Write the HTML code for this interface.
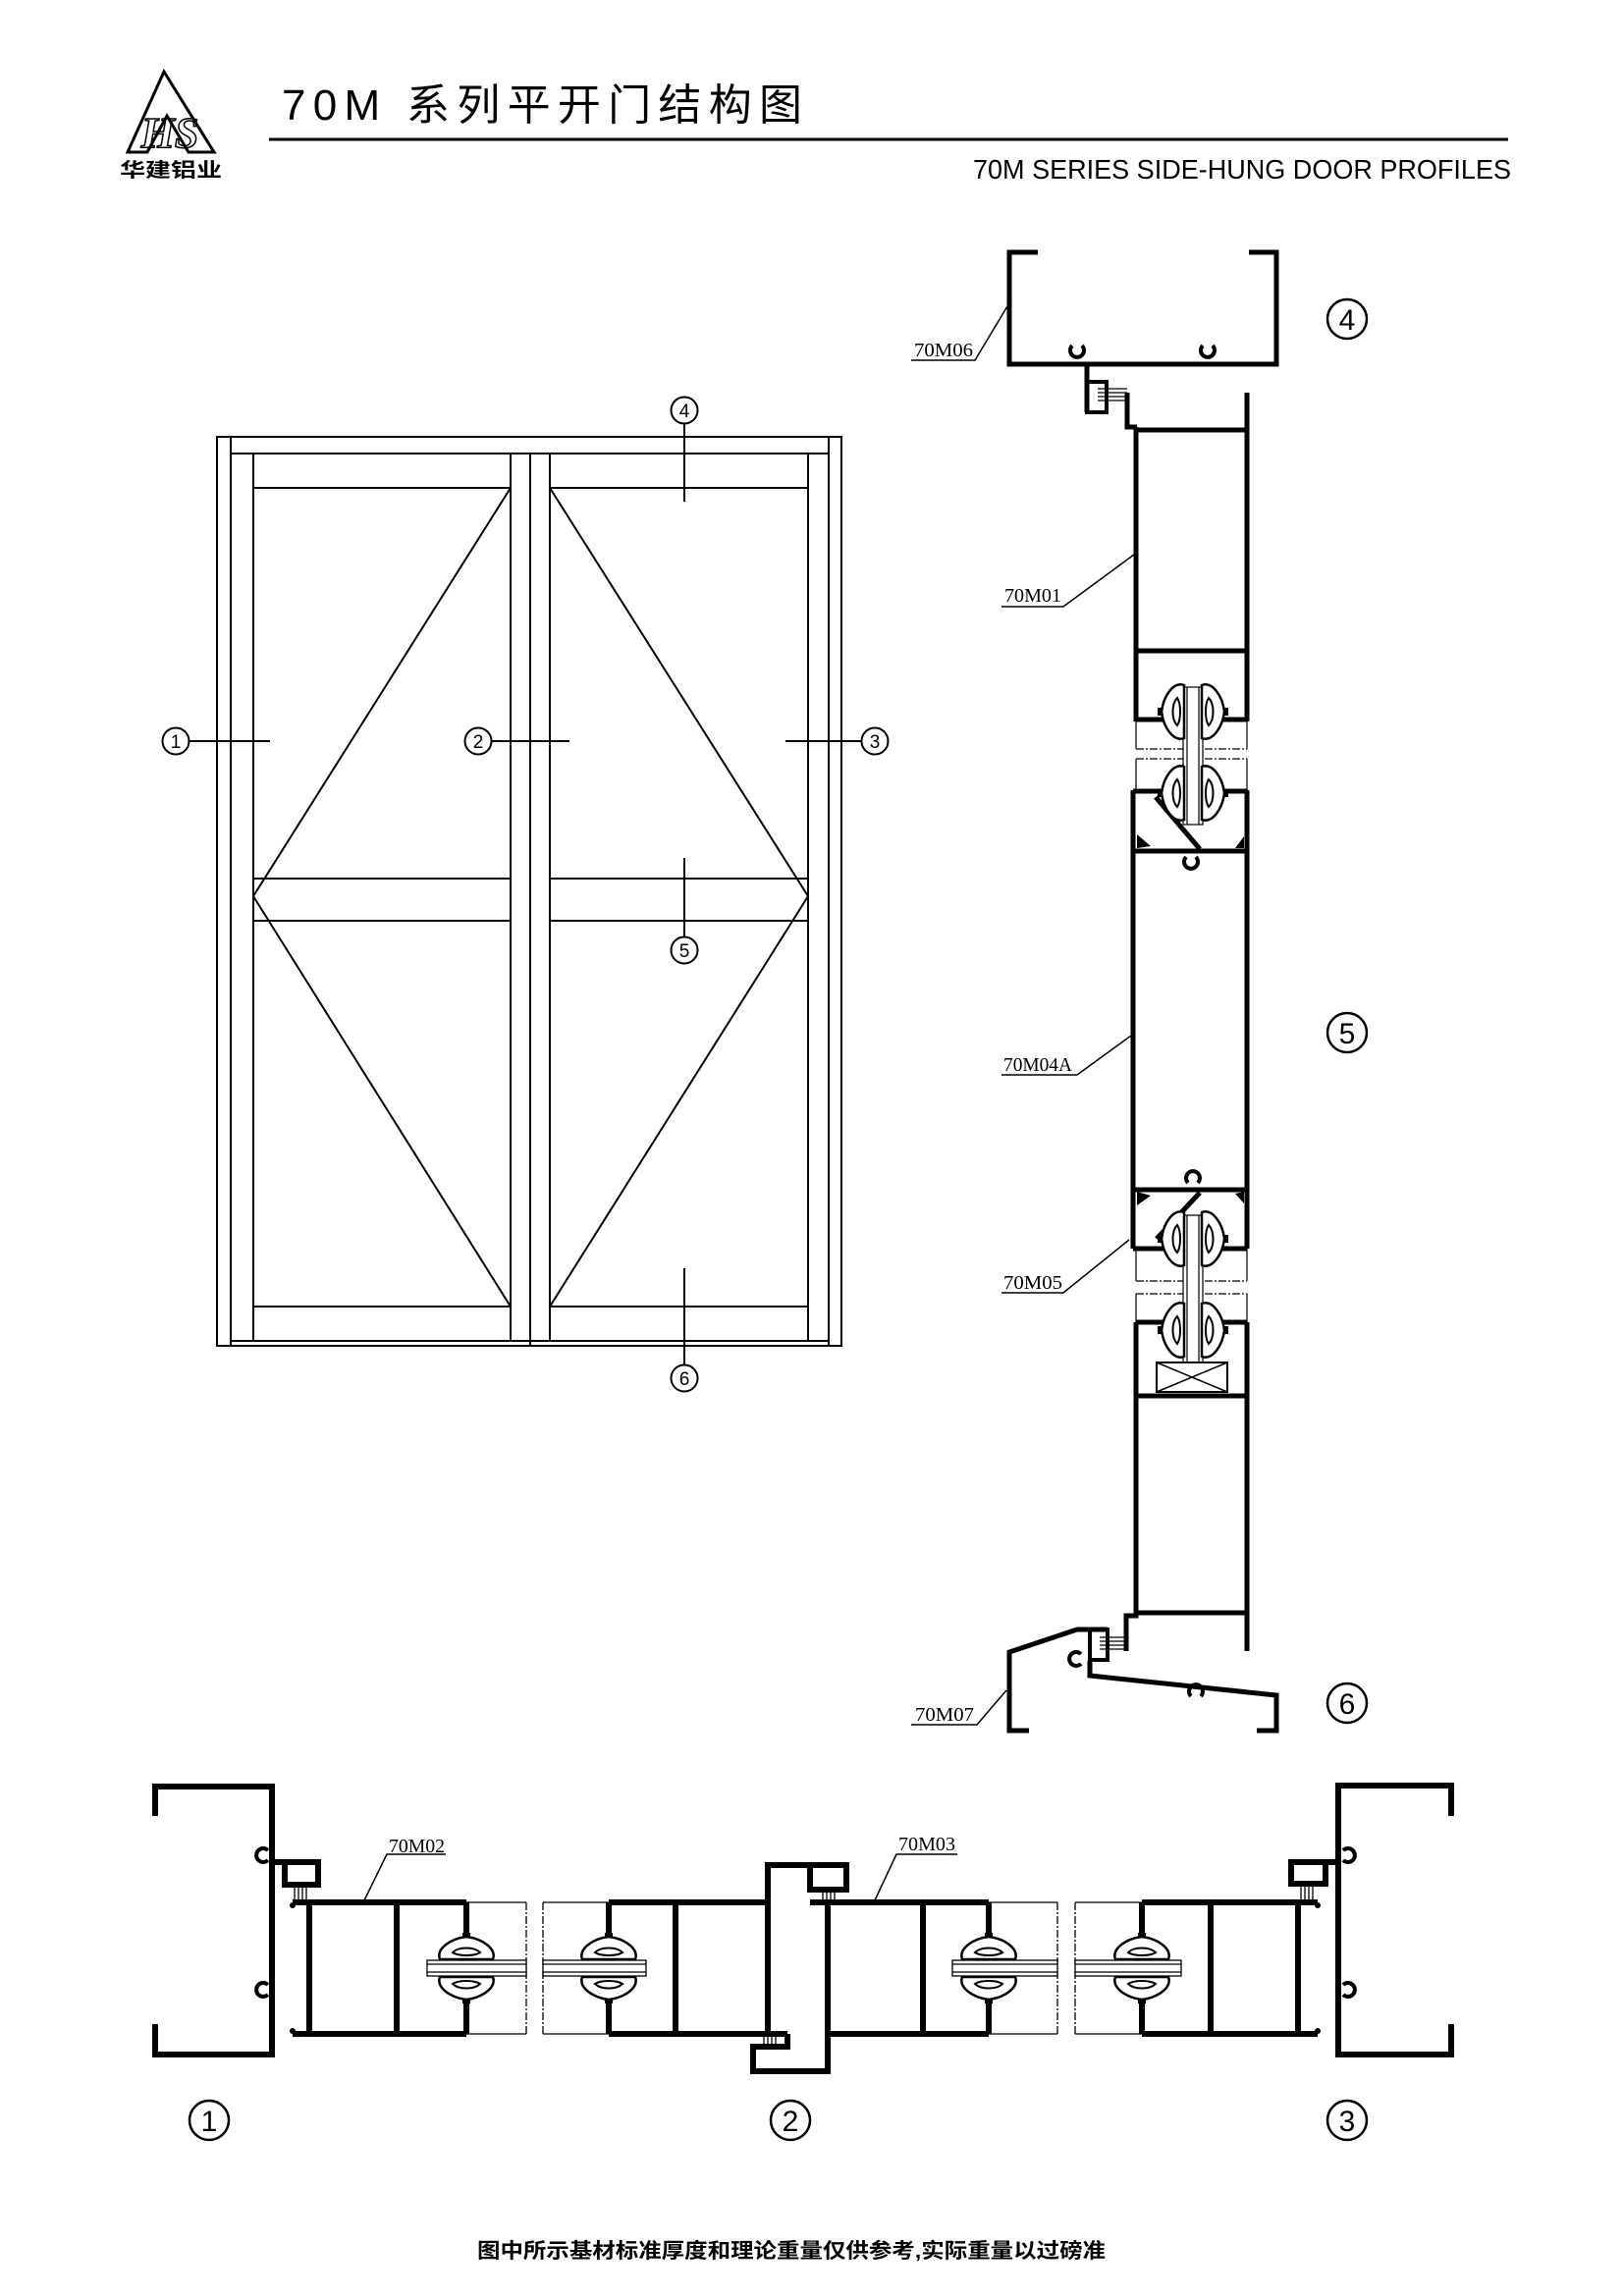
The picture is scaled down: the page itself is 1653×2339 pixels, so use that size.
<!DOCTYPE html>
<html><head><meta charset="utf-8"><style>
html,body{margin:0;padding:0;background:#fff;}
svg{display:block;}
</style></head><body>
<svg width="1653" height="2339" viewBox="0 0 1653 2339" xmlns="http://www.w3.org/2000/svg">
<defs>
<g id="gk">
 <path d="M-27,-9 C-31,-20 -16,-30 0,-32 C16,-30 31,-20 27,-9 Z" fill="#fff" stroke="#000" stroke-width="2.5"/>
 <path d="M-14,-16 C-8,-22 8,-22 14,-16 C8,-12 -8,-12 -14,-16 Z" fill="none" stroke="#000" stroke-width="2"/>
 <path d="M-27,9 C-31,20 -16,30 0,32 C16,30 31,20 27,9 Z" fill="#fff" stroke="#000" stroke-width="2.5"/>
 <path d="M-14,16 C-8,22 8,22 14,16 C8,12 -8,12 -14,16 Z" fill="none" stroke="#000" stroke-width="2"/>
 <rect x="-4" y="-36" width="8" height="5" fill="#000"/>
 <rect x="-4" y="31" width="8" height="5" fill="#000"/>
</g>
</defs>

<!-- HEADER -->
<polygon points="167,73 130,155 150,155 170,118 192,155 218,155" fill="none" stroke="#000" stroke-width="3"/>
<text x="173" y="150" font-family="Liberation Serif, serif" font-size="44" font-style="italic" font-weight="bold" text-anchor="middle" fill="none" stroke="#000" stroke-width="1.5">HS</text>
<text x="174" y="180" font-family="Liberation Sans, 'Noto Sans CJK SC', sans-serif" font-size="20" font-weight="bold" text-anchor="middle" textLength="104" lengthAdjust="spacingAndGlyphs">华建铝业</text>
<text x="287" y="122" font-family="Liberation Sans, 'Noto Sans CJK SC', sans-serif" font-size="44" textLength="530" lengthAdjust="spacing">70M 系列平开门结构图</text>
<line x1="274" y1="142" x2="1536" y2="142" stroke="#000" stroke-width="3"/>
<text x="991" y="182" font-family="Liberation Sans, sans-serif" font-size="28" textLength="548" lengthAdjust="spacingAndGlyphs">70M SERIES SIDE-HUNG DOOR PROFILES</text>

<!-- DOOR ELEVATION -->
<g fill="none" stroke="#000" stroke-width="2">
 <rect x="221" y="445" width="636" height="926"/>
 <line x1="235" y1="445" x2="235" y2="1371"/>
 <line x1="844" y1="445" x2="844" y2="1371"/>
 <line x1="235" y1="462" x2="844" y2="462"/>
 <line x1="235" y1="1366" x2="844" y2="1366"/>
 <line x1="258" y1="462" x2="258" y2="1366"/>
 <line x1="520" y1="462" x2="520" y2="1366"/>
 <line x1="540" y1="462" x2="540" y2="1371"/>
 <line x1="560" y1="462" x2="560" y2="1366"/>
 <line x1="823" y1="462" x2="823" y2="1366"/>
 <line x1="258" y1="497" x2="520" y2="497"/><line x1="560" y1="497" x2="823" y2="497"/>
 <line x1="258" y1="895" x2="520" y2="895"/><line x1="560" y1="895" x2="823" y2="895"/>
 <line x1="258" y1="938" x2="520" y2="938"/><line x1="560" y1="938" x2="823" y2="938"/>
 <line x1="258" y1="1331" x2="520" y2="1331"/><line x1="560" y1="1331" x2="823" y2="1331"/>
 <polyline points="520,497 258,913 520,1331"/>
 <polyline points="560,497 823,913 560,1331"/>
 <line x1="193" y1="755" x2="275" y2="755"/>
 <line x1="501" y1="755" x2="580" y2="755"/>
 <line x1="800" y1="755" x2="877" y2="755"/>
 <line x1="697" y1="432" x2="697" y2="511"/>
 <line x1="697" y1="874" x2="697" y2="955"/>
 <line x1="697" y1="1292" x2="697" y2="1391"/>
 <circle cx="179" cy="755" r="13.5"/><circle cx="487" cy="755" r="13.5"/><circle cx="891" cy="755" r="13.5"/>
 <circle cx="697" cy="418" r="13.5"/><circle cx="697" cy="968" r="13.5"/><circle cx="697" cy="1404" r="13.5"/>
</g>
<g font-family="Liberation Sans, sans-serif" font-size="19" text-anchor="middle">
 <text x="179" y="762">1</text><text x="487" y="762">2</text><text x="891" y="762">3</text>
 <text x="697" y="425">4</text><text x="697" y="975">5</text><text x="697" y="1411">6</text>
</g>

<!-- RIGHT VERTICAL SECTION -->
<g fill="none" stroke="#000" stroke-width="5" stroke-linejoin="miter">
 <path d="M1057,257 H1028 V371 H1300 V257 H1272"/>
 <path d="M1107,373 V420"/>
 <rect x="1107" y="389" width="20" height="31" stroke-width="4"/>
 <path d="M1148,400 V435 H1158"/>
 <path d="M1157,435 V735"/>
 <path d="M1270,400 V735"/>
 <path d="M1157,438 H1270"/>
 <path d="M1157,663 H1270"/>
 <path d="M1157,733 H1188 M1242,733 H1270"/>
 <path d="M1154,805 V1272"/>
 <path d="M1270,805 V1272"/>
 <path d="M1154,806 H1188 M1242,806 H1270"/>
 <path d="M1154,867 H1270"/>
 <path d="M1177,812 L1222,865"/>
 <path d="M1154,1212 H1270"/>
 <path d="M1222,1215 L1178,1262"/>
 <path d="M1154,1272 H1188 M1242,1272 H1270"/>
 <path d="M1157,1347 V1646 H1147 V1682"/>
 <path d="M1270,1347 V1682"/>
 <path d="M1157,1347 H1188 M1242,1347 H1270"/>
 <path d="M1157,1422 H1270"/>
 <path d="M1157,1643 H1270"/>
 <rect x="1110" y="1660" width="18" height="31" stroke-width="4"/>
 <path d="M1048,1763 H1028 V1683 L1097,1660 H1128"/>
 <path d="M1110,1692 V1707 L1300,1727 V1763 H1280"/>
</g>
<g fill="none" stroke="#000" stroke-width="4">
 <path d="M1092,352 A7,7 0 1,0 1102,352"/>
 <path d="M1225,352 A7,7 0 1,0 1235,352"/>
 <path d="M1208,873 A7,7 0 1,0 1218,873"/>
 <path d="M1210,1205 A7,7 0 1,1 1220,1205"/>
 <path d="M1101,1685 A7,7 0 1,0 1101,1695"/>
 <path d="M1213,1728 A7,7 0 1,1 1223,1728"/>
</g>
<g fill="none" stroke="#000" stroke-width="1.2">
 <path d="M1157,735 V763 M1270,735 V763 M1157,773 V805 M1270,773 V805"/>
 <path d="M1157,1272 V1305 M1270,1272 V1305 M1157,1318 V1347 M1270,1318 V1347"/>
 <path d="M1157,763 H1270 M1157,773 H1270 M1157,1305 H1270 M1157,1318 H1270" stroke-dasharray="8,2,2,2"/>
 <path d="M1118,396 H1148 M1118,400 H1148 M1118,404 H1148 M1118,408 H1148"/>
 <path d="M1120,1668 H1148 M1120,1672 H1148 M1120,1676 H1148 M1120,1680 H1148"/>
 <rect x="1205" y="700" width="20" height="140" fill="#fff"/>
 <path d="M1209,700 V840 M1221,700 V840"/>
 <rect x="1205" y="1238" width="20" height="150" fill="#fff"/>
 <path d="M1209,1238 V1388 M1221,1238 V1388"/>
 <rect x="1178" y="1388" width="72" height="30" stroke-width="2"/>
 <path d="M1178,1388 L1250,1418 M1250,1388 L1178,1418" stroke-width="1.5"/>
</g>
<use href="#gk" transform="translate(1215,725) rotate(90)"/>
<use href="#gk" transform="translate(1215,808) rotate(90)"/>
<use href="#gk" transform="translate(1215,1262) rotate(90)"/>
<use href="#gk" transform="translate(1215,1355) rotate(90)"/>
<polygon points="1158,850 1172,862 1158,864" fill="#000"/>
<polygon points="1267,852 1258,864 1267,864" fill="#000"/>
<polygon points="1158,1214 1172,1218 1158,1228" fill="#000"/>
<polygon points="1267,1214 1258,1216 1267,1226" fill="#000"/>
<!-- leaders -->
<g fill="none" stroke="#000" stroke-width="1.5">
 <path d="M1026,312 L993,367 H928"/>
 <path d="M1155,565 L1083,618 H1020"/>
 <path d="M1152,1055 L1097,1095 H1020"/>
 <path d="M1150,1263 L1083,1317 H1020"/>
 <path d="M1025,1722 L995,1757 H928"/>
 <circle cx="1372" cy="325" r="20" stroke-width="2.5"/>
 <circle cx="1372" cy="1052" r="20" stroke-width="2.5"/>
 <circle cx="1372" cy="1735" r="20" stroke-width="2.5"/>
</g>
<g font-family="Liberation Serif, serif" font-size="20">
 <text x="931" y="363" textLength="60" lengthAdjust="spacingAndGlyphs">70M06</text>
 <text x="1023" y="613" textLength="58" lengthAdjust="spacingAndGlyphs">70M01</text>
 <text x="1022" y="1091" textLength="70" lengthAdjust="spacingAndGlyphs">70M04A</text>
 <text x="1022" y="1313" textLength="60" lengthAdjust="spacingAndGlyphs">70M05</text>
 <text x="932" y="1753" textLength="60" lengthAdjust="spacingAndGlyphs">70M07</text>
 <text x="396" y="1887" textLength="57" lengthAdjust="spacingAndGlyphs">70M02</text>
 <text x="915" y="1885" textLength="58" lengthAdjust="spacingAndGlyphs">70M03</text>
</g>
<g font-family="Liberation Sans, sans-serif" font-size="30" text-anchor="middle">
 <text x="1372" y="336">4</text><text x="1372" y="1063">5</text><text x="1372" y="1746">6</text>
 <text x="213" y="2171">1</text><text x="805" y="2171">2</text><text x="1372" y="2171">3</text>
</g>

<!-- BOTTOM HORIZONTAL SECTION -->
<g fill="none" stroke="#000" stroke-width="6">
 <path d="M158,1850 V1820 H277 V2093 H158 V2062"/>
 <path d="M1478,1850 V1819 H1363 V2093 H1478 V2062"/>
 <path d="M277,1897 H324 V1920 H290 V1897"/>
 <path d="M1363,1897 H1350 V1919 H1315 V1897 H1350"/>
 <path d="M298,1938 H475 M298,2072 H475"/>
 <path d="M315,1938 V2072"/>
 <path d="M404,1938 V2072"/>
 <path d="M475,1938 V1975 M475,2036 V2072"/>
 <path d="M620,1938 H782 M620,2072 H802"/>
 <path d="M620,1938 V1975 M620,2036 V2072"/>
 <path d="M688,1938 V2072"/>
 <path d="M782,2072 V1900 H862 V1925 H825 V1900"/>
 <path d="M825,1938 H1007 M843,2072 H1007"/>
 <path d="M843,1938 V2110 H767 V2085 H802 V2072"/>
 <path d="M940,1938 V2072"/>
 <path d="M1007,1938 V1975 M1007,2036 V2072"/>
 <path d="M1163,1938 H1342 M1163,2072 H1342"/>
 <path d="M1163,1938 V1975 M1163,2036 V2072"/>
 <path d="M1233,1938 V2072"/>
 <path d="M1322,1938 V2072"/>
</g>
<g fill="none" stroke="#000" stroke-width="4">
 <path d="M273,1885 A7,7 0 1,0 273,1895"/>
 <path d="M273,2022 A7,7 0 1,0 273,2032"/>
 <path d="M1368,1885 A7,7 0 1,1 1368,1895"/>
 <path d="M1368,2022 A7,7 0 1,1 1368,2032"/>
</g>
<g fill="none" stroke="#000" stroke-width="1.3">
 <path d="M475,1938 H536 M475,2072 H536 M553,1938 H620 M553,2072 H620 M1007,1938 H1077 M1007,2072 H1077 M1095,1938 H1163 M1095,2072 H1163"/>
 <path d="M536,1938 V2072 M553,1938 V2072 M1077,1938 V2072 M1095,1938 V2072" stroke-dasharray="8,2,2,2"/>
 <path d="M300,1920 V1935 M304,1920 V1935 M308,1920 V1935 M312,1920 V1935"/>
 <path d="M1325,1919 V1935 M1329,1919 V1935 M1333,1919 V1935 M1337,1919 V1935"/>
 <path d="M838,1923 V1938 M842,1923 V1938 M846,1923 V1938 M850,1923 V1938"/>
 <path d="M778,2072 V2087 M782,2072 V2087 M786,2072 V2087 M790,2072 V2087"/>
 <path d="M1313,1896 V1897"/>
 <rect x="435" y="1997" width="101" height="16" fill="#fff"/>
 <path d="M435,2001 H536 M435,2009 H536"/>
 <rect x="553" y="1997" width="105" height="16" fill="#fff"/>
 <path d="M553,2001 H658 M553,2009 H658"/>
 <rect x="970" y="1997" width="107" height="16" fill="#fff"/>
 <path d="M970,2001 H1077 M970,2009 H1077"/>
 <rect x="1095" y="1997" width="108" height="16" fill="#fff"/>
 <path d="M1095,2001 H1203 M1095,2009 H1203"/>
 <path d="M370,1938 L394,1889 H454 M890,1938 L913,1889 H975" stroke-width="1.5"/>
 <circle cx="213" cy="2160" r="20" stroke-width="2.5"/>
 <circle cx="805" cy="2160" r="20" stroke-width="2.5"/>
 <circle cx="1372" cy="2160" r="20" stroke-width="2.5"/>
</g>
<use href="#gk" transform="translate(475,2005)"/>
<use href="#gk" transform="translate(620,2005)"/>
<use href="#gk" transform="translate(1007,2005)"/>
<use href="#gk" transform="translate(1163,2005)"/>
<circle cx="298" cy="1941" r="3" fill="#000"/><circle cx="298" cy="2069" r="3" fill="#000"/>
<circle cx="1342" cy="1941" r="3" fill="#000"/><circle cx="1342" cy="2069" r="3" fill="#000"/>

<!-- FOOTER -->
<text x="486" y="2300" font-family="Liberation Sans, 'Noto Sans CJK SC', sans-serif" font-size="21" font-weight="bold" textLength="640" lengthAdjust="spacingAndGlyphs">图中所示基材标准厚度和理论重量仅供参考,实际重量以过磅准</text>
</svg>
</body></html>
